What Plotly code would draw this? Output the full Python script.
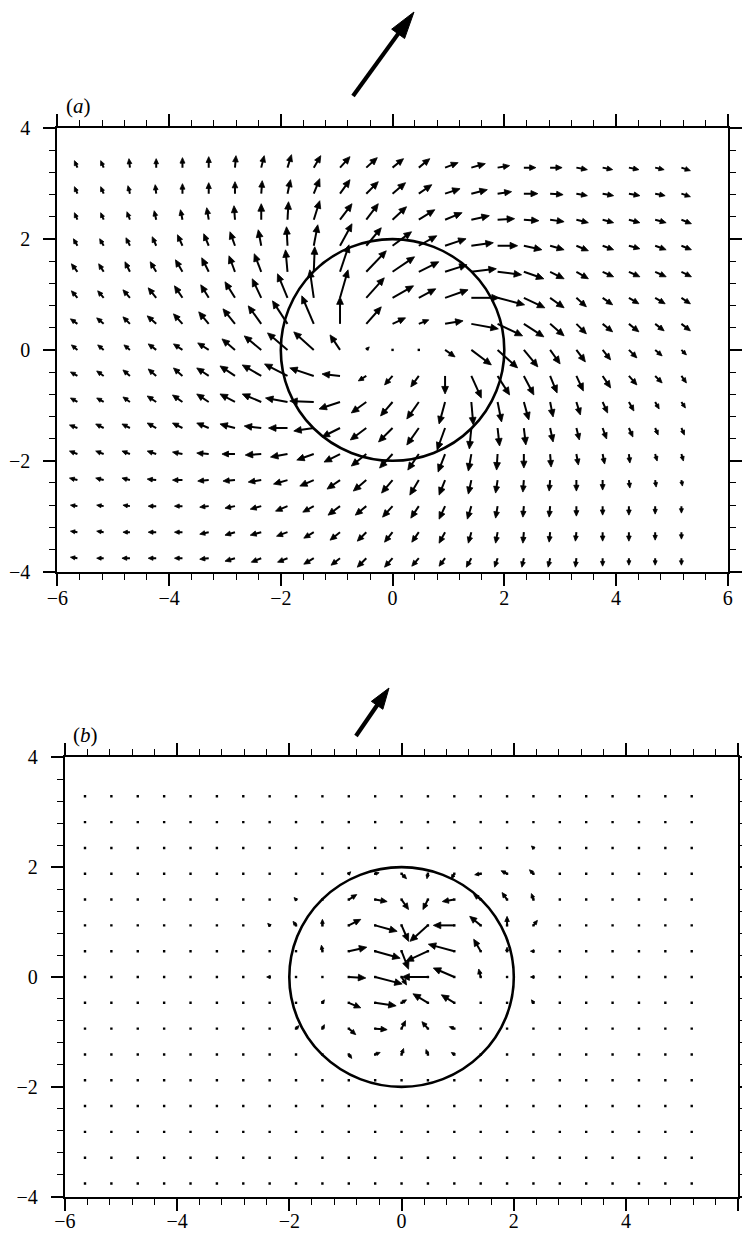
import math
import plotly.graph_objects as go

# ---------------- data ----------------
GRID_X = [-5.64, -5.17, -4.70, -4.23, -3.76, -3.29, -2.82, -2.35, -1.88, -1.41, -0.94, -0.47,
          0.00, 0.47, 0.94, 1.41, 1.88, 2.35, 2.82, 3.29, 3.76, 4.23, 4.70, 5.17]
GRID_Y = [3.29, 2.82, 2.35, 1.88, 1.41, 0.94, 0.47, 0.00, -0.47, -0.94, -1.41, -1.88,
          -2.35, -2.82, -3.29, -3.76]

X_TICKS = [-6, -4, -2, 0, 2, 4, 6]
Y_TICKS = [-4, -2, 0, 2, 4]
CIRCLE_RADIUS = 2.0

# panel (a): velocity components, one list per grid row (top to bottom)
U_A = [
    [-3, -3, -1, 0, 0, 0, 1, 3, 4, 7, 10, 11, 11, 11, 13, 14, 12, 12, 12, 11, 10, 10, 9, 9],
    [-3, -3, -2, -1, 0, 0, 0, 1, 3, 6, 10, 12, 13, 13, 15, 16, 14, 14, 13, 11, 11, 11, 10, 9],
    [-3, -3, -3, -2, -2, -2, -1, 0, 1, 6, 12, 12, 14, 16, 17, 18, 17, 15, 14, 12, 11, 11, 11, 10],
    [-4, -4, -4, -4, -5, -5, -5, -3, -1, 4, 12, 15, 19, 18, 21, 22, 20, 18, 14, 12, 11, 11, 11, 10],
    [-6, -5, -5, -6, -7, -7, -6, -7, -2, 1, 9, 20, 22, 20, 22, 25, 24, 20, 14, 12, 11, 11, 11, 10],
    [-6, -6, -7, -8, -8, -8, -10, -9, -10, -4, 8, 18, 21, 17, 23, 28, 27, 21, 14, 10, 10, 10, 10, 9],
    [-7, -7, -7, -9, -9, -10, -12, -13, -15, -12, 0, 15, 13, 10, 18, 27, 25, 20, 14, 10, 10, 10, 9, 9],
    [-6, -6, -6, -8, -9, -11, -13, -17, -20, -20, -10, 3, 2, 0, 10, 20, 20, 14, 10, 9, 8, 8, 7, 5],
    [-7, -7, -7, -8, -9, -12, -15, -19, -23, -24, -18, -8, -8, -8, 0, 10, 12, 10, 7, 7, 8, 8, 7, 5],
    [-7, -7, -7, -9, -10, -12, -15, -19, -22, -24, -21, -15, -12, -12, -6, 2, 4, 5, 3, 4, 5, 5, 4, 4],
    [-8, -8, -8, -9, -10, -12, -15, -17, -19, -20, -18, -16, -14, -12, -8, -2, 2, 2, 3, 3, 4, 4, 3, 3],
    [-8, -8, -8, -9, -10, -12, -13, -16, -17, -17, -16, -15, -13, -11, -7, -3, -1, 0, 1, 2, 2, 1, 2, 2],
    [-8, -8, -8, -9, -10, -11, -12, -13, -14, -14, -13, -13, -11, -9, -6, -3, -2, -1, -1, 0, 0, 1, 1, 1],
    [-7, -7, -7, -8, -8, -9, -10, -11, -12, -11, -12, -11, -10, -8, -6, -4, -2, -1, -1, 0, 0, 0, 0, 0],
    [-7, -7, -7, -8, -8, -9, -10, -11, -11, -10, -10, -9, -8, -7, -6, -3, -2, -1, -1, -1, 0, 0, 0, 0],
    [-7, -7, -8, -8, -8, -9, -10, -10, -10, -10, -9, -9, -8, -7, -6, -5, -3, -2, -2, -1, 0, 0, 0, 0],
]
V_A = [
    [7, 7, 9, 9, 10, 11, 12, 12, 13, 12, 11, 10, 9, 9, 5, 4, 2, 0, 0, -2, -2, -2, -2, -3],
    [7, 7, 8, 9, 10, 11, 12, 13, 14, 15, 14, 12, 11, 9, 5, 4, 2, 0, -1, -2, -2, -2, -2, -3],
    [7, 7, 8, 9, 10, 12, 14, 16, 18, 19, 16, 16, 13, 10, 7, 4, 1, -1, -2, -3, -3, -3, -3, -4],
    [7, 7, 8, 9, 11, 12, 14, 16, 19, 21, 22, 18, 14, 10, 7, 3, 0, -4, -4, -5, -4, -3, -4, -4],
    [8, 8, 10, 10, 12, 14, 16, 18, 22, 25, 27, 21, 15, 10, 7, 3, -3, -7, -7, -7, -5, -5, -5, -5],
    [7, 7, 8, 10, 12, 13, 16, 19, 24, 28, 28, 20, 12, 9, 8, 0, -7, -10, -10, -9, -7, -6, -6, -6],
    [5, 6, 7, 8, 10, 12, 15, 18, 23, 28, 27, 17, 6, 4, 3, -5, -12, -13, -12, -10, -8, -8, -7, -7],
    [5, 5, 5, 6, 6, 7, 11, 14, 17, 18, 15, 3, -1, -2, -7, -15, -18, -17, -14, -12, -10, -8, -6, -5],
    [4, 5, 6, 7, 8, 8, 10, 11, 12, 8, 2, -5, -9, -11, -18, -22, -19, -19, -17, -15, -12, -9, -7, -7],
    [4, 4, 5, 6, 7, 8, 8, 8, 4, 1, -7, -11, -14, -17, -22, -23, -20, -18, -15, -13, -11, -9, -7, -6],
    [3, 4, 4, 5, 5, 5, 4, 2, 0, -3, -9, -12, -14, -17, -22, -21, -18, -17, -14, -12, -11, -9, -7, -7],
    [3, 3, 3, 3, 2, 1, 0, -1, -3, -6, -8, -12, -14, -16, -18, -17, -16, -14, -13, -11, -10, -9, -7, -7],
    [2, 2, 2, 1, 0, -1, -1, -2, -4, -6, -9, -11, -13, -15, -15, -14, -13, -12, -11, -11, -10, -8, -7, -6],
    [1, 1, 1, 0, 0, -1, -2, -3, -5, -6, -9, -9, -11, -12, -13, -13, -12, -11, -11, -10, -9, -9, -8, -7],
    [1, 1, 0, 0, 0, -2, -3, -3, -4, -6, -8, -9, -10, -10, -11, -11, -11, -11, -10, -9, -9, -9, -8, -7],
    [1, 0, 0, 0, 0, -1, -3, -4, -4, -6, -7, -9, -9, -8, -8, -9, -9, -9, -9, -9, -8, -7, -7, -7],
]

# panel (b): non-zero part of the field (grid rows 2..12, columns 7..17); zero elsewhere
B_ROW_START, B_COL_START = 2, 7
U_B_INNER = [
    [0, 0, 0, 0, 0, 0, 0, 0, 0, -2, -2],
    [0, 0, 0, 2, 4, 5, -1, -3, -6, -6, -4],
    [-1, -2, 0, 8, 12, 7, -5, -12, -7, -5, -2],
    [-2, -3, 0, 12, 22, 7, -18, -21, -11, 0, 4],
    [-2, 0, -1, 18, 25, 7, -22, -26, -7, 0, -3],
    [-3, -2, 1, 17, 27, 5, -26, -21, -2, -2, -3],
    [-2, -1, 2, 12, 21, 5, -15, -13, 0, 0, -2],
    [0, 3, 2, 7, 12, 4, -6, -5, 0, 0, 0],
    [0, 0, 1, 3, 5, 2, -2, -3, 0, 0, 0],
    [0, 0, 0, 0, 1, 1, 0, 0, 0, 0, 0],
    [0, 0, 0, 0, 0, 0, 0, 0, 0, 0, 0],
]
V_B_INNER = [
    [0, 0, 0, 0, 0, 0, 0, 0, 0, 1, 2],
    [0, 0, 0, 2, 1, -5, -5, -5, -1, 3, 4],
    [1, 2, 2, 5, -2, -10, -10, -2, 5, 7, 6],
    [2, 4, 6, 6, -6, -16, -16, 0, 9, 9, 5],
    [1, 0, 6, 4, -7, -18, -10, 7, 12, 4, 0],
    [0, 0, 0, -1, -7, -8, 0, 9, 8, 0, 0],
    [0, 0, 3, -5, -3, 3, 9, 8, 0, 0, 3],
    [0, 3, 4, -6, -1, 8, 7, 2, 0, 0, 0],
    [0, 0, 2, -4, 2, 6, 5, 2, 0, 0, 0],
    [0, 0, 0, 0, 2, 2, 2, 0, 0, 0, 0],
    [0, 0, 0, 0, 0, 0, 0, 0, 0, 0, 0],
]

# reference vectors drawn above each panel (same velocity units)
REF_A = (61, 84)
REF_B = (33, 48)

# ---------------- layout geometry (pixels) ----------------
W, H = 742, 1235
PANEL_A = dict(x0=57.3, x1=727.8, y0=128.3, y1=571.5)
PANEL_B = dict(x0=64.8, x1=738.3, y0=757.3, y1=1196.7)
REF_A_TAIL = (353, 96)
REF_B_TAIL = (356, 736)
PX_PER_UNIT = 1.0  # quiver scale: pixels per velocity unit

FONT = "Liberation Serif"


def full_b(inner):
    grid = [[0] * len(GRID_X) for _ in GRID_Y]
    for r, row in enumerate(inner):
        for c, val in enumerate(row):
            grid[B_ROW_START + r][B_COL_START + c] = val
    return grid


U_B = full_b(U_B_INNER)
V_B = full_b(V_B_INNER)


def quiver(U, V, panel, xa, ya, dots_always=False):
    sx = (panel["x1"] - panel["x0"]) / 12.0
    sy = (panel["y1"] - panel["y0"]) / 8.0
    shx, shy, hx, hy, dx, dy = [], [], [], [], [], []
    for j, y0 in enumerate(GRID_Y):
        for i, x0 in enumerate(GRID_X):
            u = U[j][i] * PX_PER_UNIT
            v = V[j][i] * PX_PER_UNIT
            L = math.hypot(u, v)
            if dots_always or L < 2.5:
                dx.append(x0)
                dy.append(y0)
            if L < 2.5:
                continue
            ex, ey = u / L, v / L
            h = min(7.5, max(3.5, 0.35 * L + 2.0))
            w = 0.45 * h
            bx, by = u - ex * h, v - ey * h
            lx, ly = bx - ey * w, by + ex * w
            rx, ry = bx + ey * w, by - ex * w
            cx, cy = u - ex * h * 0.6, v - ey * h * 0.6
            shx += [x0, x0 + cx / sx, None]
            shy += [y0, y0 + cy / sy, None]
            hx += [x0 + u / sx, x0 + lx / sx, x0 + rx / sx, x0 + u / sx, None]
            hy += [y0 + v / sy, y0 + ly / sy, y0 + ry / sy, y0 + v / sy, None]
    traces = [
        go.Scatter(x=shx, y=shy, mode="lines", line=dict(color="black", width=2.0),
                   xaxis=xa, yaxis=ya, hoverinfo="skip", showlegend=False),
        go.Scatter(x=hx, y=hy, mode="lines", fill="toself", fillcolor="black",
                   line=dict(color="black", width=0.8),
                   xaxis=xa, yaxis=ya, hoverinfo="skip", showlegend=False),
    ]
    if dx:
        traces.append(go.Scatter(x=dx, y=dy, mode="markers",
                                 marker=dict(color="black", size=2.4, symbol="square"),
                                 xaxis=xa, yaxis=ya, hoverinfo="skip", showlegend=False))
    return traces


def px2paper(x, y):
    return x / W, 1 - y / H


def ref_arrow_shapes(tail, vec, head_len, head_w, width):
    tx, ty = tail
    u, v = vec[0] * PX_PER_UNIT, -vec[1] * PX_PER_UNIT  # screen y grows downward
    L = math.hypot(u, v)
    ex, ey = u / L, v / L
    bx, by = tx + u - ex * head_len, ty + v - ey * head_len
    tip = (tx + u, ty + v)
    l = (bx - ey * head_w, by + ex * head_w)
    r = (bx + ey * head_w, by - ex * head_w)
    p0 = px2paper(tx, ty)
    p1 = px2paper(bx + ex * 4, by + ey * 4)
    pts = [px2paper(*tip), px2paper(*l), px2paper(*r)]
    path = "M {:.5f},{:.5f} L {:.5f},{:.5f} L {:.5f},{:.5f} Z".format(
        pts[0][0], pts[0][1], pts[1][0], pts[1][1], pts[2][0], pts[2][1])
    return [
        dict(type="line", xref="paper", yref="paper", x0=p0[0], y0=p0[1], x1=p1[0], y1=p1[1],
             line=dict(color="black", width=width)),
        dict(type="path", xref="paper", yref="paper", path=path,
             fillcolor="black", line=dict(color="black", width=1)),
    ]


fig = go.Figure()
for t in quiver(U_A, V_A, PANEL_A, "x", "y"):
    fig.add_trace(t)
for t in quiver(U_B, V_B, PANEL_B, "x2", "y2", dots_always=True):
    fig.add_trace(t)


def xdom(p):
    return [p["x0"] / W, p["x1"] / W]


def ydom(p):
    return [1 - p["y1"] / H, 1 - p["y0"] / H]


def axis(domain, rng, anchor, standoff):
    return dict(
        domain=domain, range=rng, anchor=anchor, automargin=False,
        tickmode="linear", tick0=0, dtick=2,
        ticks="outside", ticklen=12, tickwidth=1.6, tickcolor="black",
        showline=True, linewidth=2.2, linecolor="black", mirror="ticks",
        showgrid=False, zeroline=False, fixedrange=True,
        minor=dict(tick0=0, dtick=0.4, ticks="outside",
                   ticklen=6, tickwidth=1.4, tickcolor="black", showgrid=False),
        tickfont=dict(family=FONT, size=20, color="black"),
        ticklabelstandoff=standoff,
    )


shapes = [
    dict(type="circle", xref="x", yref="y", x0=-CIRCLE_RADIUS, x1=CIRCLE_RADIUS,
         y0=-CIRCLE_RADIUS, y1=CIRCLE_RADIUS, line=dict(color="black", width=2.6),
         layer="above"),
    dict(type="circle", xref="x2", yref="y2", x0=-CIRCLE_RADIUS, x1=CIRCLE_RADIUS,
         y0=-CIRCLE_RADIUS, y1=CIRCLE_RADIUS, line=dict(color="black", width=2.6),
         layer="above"),
]
shapes += ref_arrow_shapes(REF_A_TAIL, REF_A, 27, 8, 4.2)
shapes += ref_arrow_shapes(REF_B_TAIL, REF_B, 21, 7, 4.2)

fig.update_layout(
    width=W, height=H,
    margin=dict(l=0, r=0, t=0, b=0, pad=0, autoexpand=False),
    paper_bgcolor="white", plot_bgcolor="white",
    showlegend=False,
    xaxis=axis(xdom(PANEL_A), [-6, 6], "y", -5),
    yaxis=axis(ydom(PANEL_A), [-4, 4], "x", 9),
    xaxis2=axis(xdom(PANEL_B), [-6, 6], "y2", -7),
    yaxis2=axis(ydom(PANEL_B), [-4, 4], "x2", 9),
    shapes=shapes,
    annotations=[
        dict(text="(<i>a</i>)", x=(PANEL_A["x0"] + 21) / W, y=1 - (PANEL_A["y0"] - 22) / H,
             xref="paper", yref="paper", showarrow=False, xanchor="center", yanchor="middle",
             font=dict(family=FONT, size=21, color="black")),
        dict(text="(<i>b</i>)", x=(PANEL_B["x0"] + 21) / W, y=1 - (PANEL_B["y0"] - 22) / H,
             xref="paper", yref="paper", showarrow=False, xanchor="center", yanchor="middle",
             font=dict(family=FONT, size=21, color="black")),
    ],
)

fig.write_html("out.html")
